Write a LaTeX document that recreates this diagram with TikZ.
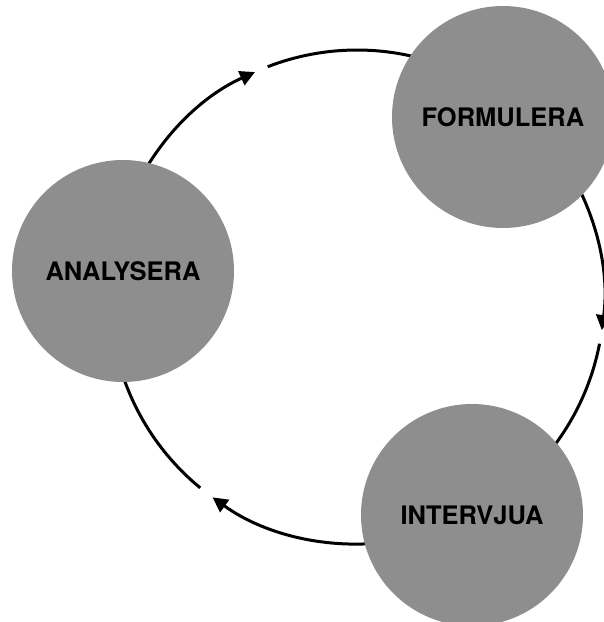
\documentclass[tikz,border=0pt]{standalone}
\usepackage{fontspec}
\setmainfont{TeX Gyre Heros}
\usetikzlibrary{arrows.meta}
\definecolor{stagefill}{RGB}{142,142,142}
\tikzset{
  stage/.style={circle, fill=stagefill, minimum size=222, inner sep=0pt,
    font=\bfseries\fontsize{25.5}{30}\selectfont, text=black},
  cyc/.style={line width=3pt, draw=black},
  cyctip/.style={cyc, -{Triangle[length=15pt,width=15pt]}}
}
\begin{document}
\begin{tikzpicture}[x=1pt, y=-1pt]
  \useasboundingbox (0,0) rectangle (604,622);
  \clip (0,0) rectangle (604,622);
  % centre of the cycle
  \coordinate (C) at (357,297);
  % ANALYSERA -> FORMULERA
  \draw[cyctip] ([shift={(-160:247)}]C) arc[start angle=-160, end angle=-114.4, radius=247];
  \draw[cyc] ([shift={(-111.2:247)}]C) arc[start angle=-111.2, end angle=-70, radius=247];
  % FORMULERA -> INTERVJUA
  \draw[cyctip] ([shift={(-35:247)}]C) arc[start angle=-35, end angle=7.7, radius=247];
  \draw[cyc] ([shift={(10.9:247)}]C) arc[start angle=10.9, end angle=45, radius=247];
  % INTERVJUA -> ANALYSERA
  \draw[cyctip] ([shift={(80:247)}]C) arc[start angle=80, end angle=125.8, radius=247];
  \draw[cyc] ([shift={(129.4:247)}]C) arc[start angle=129.4, end angle=170, radius=247];
  % stages
  \node[stage] (F) at (503,117) {FORMULERA};
  \node[stage] (A) at (123,271) {ANALYSERA};
  \node[stage] (I) at (472,515) {INTERVJUA};
\end{tikzpicture}
\end{document}
